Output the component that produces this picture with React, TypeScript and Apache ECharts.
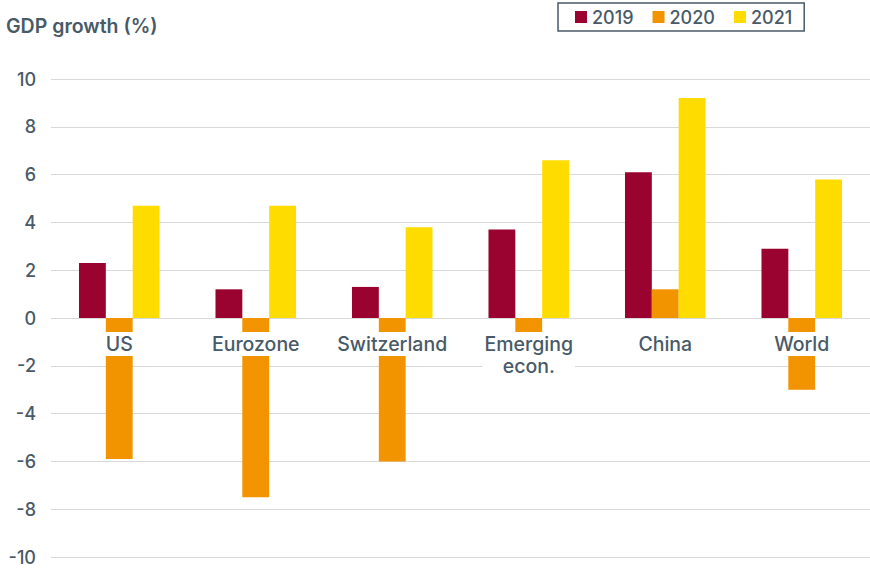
import React, { useEffect, useRef } from "react";
import * as echarts from "echarts";

const categories = ["US", "Eurozone", "Switzerland", "Emerging\necon.", "China", "World"];
const seriesNames = ["2019", "2020", "2021"];
const values2019 = [2.3, 1.2, 1.3, 3.7, 6.1, 2.9];
const values2020 = [-5.9, -7.5, -6.0, -1.5, 1.2, -3.0];
const values2021 = [4.7, 4.7, 3.8, 6.6, 9.2, 5.8];
const colors = ["#9a0330", "#f29400", "#ffdc00"];
const yTicks = { min: -10, max: 10, interval: 2 };

const textColor = "#485a68";
const fontFamily = "Inter, 'Liberation Sans', Arial, sans-serif";

export default function App() {
  const ref = useRef<HTMLDivElement>(null);
  useEffect(() => {
    if (!ref.current) return;
    const chart = echarts.init(ref.current, undefined, { renderer: "svg" });
    const data = [values2019, values2020, values2021];
    const gridTop = 79;
    const gridBottom = 11;
    const plotHeight = 568 - gridTop - gridBottom;
    const zeroFromBottom = (plotHeight * (0 - yTicks.min)) / (yTicks.max - yTicks.min);
    chart.setOption({
      animation: false,
      textStyle: { fontFamily },
      title: {
        text: "GDP growth (%)",
        left: 1,
        top: 11,
        textStyle: { fontSize: 19.5, fontWeight: 600, color: textColor, fontFamily },
      },
      legend: {
        data: seriesNames,
        left: 558,
        top: 3,
        padding: [5, 12, 5, 17],
        itemWidth: 12,
        itemHeight: 12,
        itemGap: 19,
        icon: "rect",
        borderColor: textColor,
        borderWidth: 1.5,
        textStyle: { fontSize: 18, fontWeight: 500, color: textColor, fontFamily, padding: [0, 0, 0, 0] },
      },
      grid: { left: 51, right: 0, top: gridTop, bottom: gridBottom, containLabel: false },
      xAxis: {
        type: "category",
        data: categories,
        z: 5,
        position: "bottom",
        offset: -zeroFromBottom,
        axisLine: { show: false, onZero: false },
        axisTick: { show: false },
        axisLabel: {
          interval: 0,
          margin: 14,
          fontSize: 19.5,
          fontWeight: 500,
          color: textColor,
          fontFamily,
          lineHeight: 22,
          backgroundColor: "#ffffff",
          padding: [1, 2, 1, 2],
        },
      },
      yAxis: {
        type: "value",
        min: yTicks.min,
        max: yTicks.max,
        interval: yTicks.interval,
        axisLine: { show: false },
        axisTick: { show: false },
        axisLabel: { fontSize: 18, fontWeight: 500, color: textColor, fontFamily, margin: 15 },
        splitLine: { lineStyle: { color: "#d9d9d9", width: 1 } },
      },
      series: seriesNames.map((name, i) => ({
        name,
        type: "bar",
        data: data[i],
        barGap: "0%",
        barCategoryGap: "41%",
        itemStyle: { color: colors[i] },
      })),
    });
    return () => chart.dispose();
  }, []);
  return (
    <div
      ref={ref}
      style={{ position: "absolute", left: 0, top: 0, width: 870, height: 568 }}
    />
  );
}
